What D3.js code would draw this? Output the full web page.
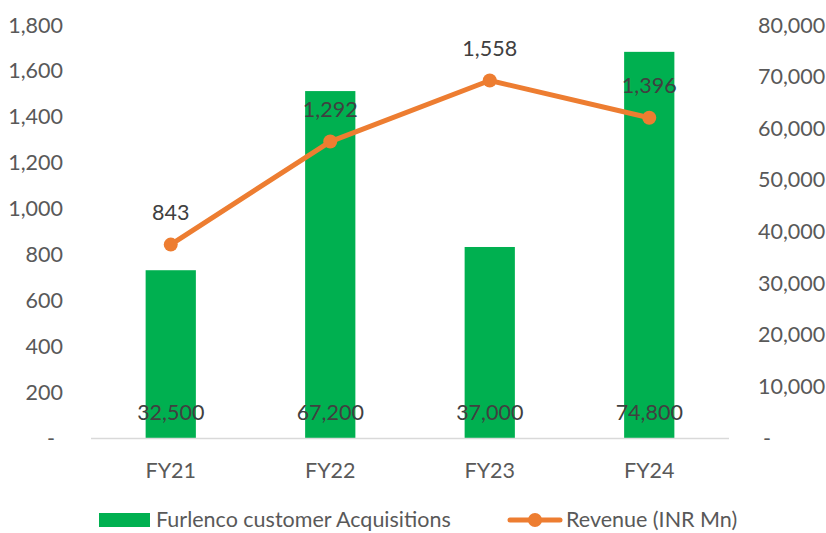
<!DOCTYPE html>
<html><head><meta charset="utf-8">
<script src="https://cdn.jsdelivr.net/npm/d3@7"></script>
<style>body{margin:0;background:#fff}svg{display:block}</style>
</head><body>
<script>
const categories = ["FY21","FY22","FY23","FY24"];
const acquisitions = [32500, 67200, 37000, 74800];
const revenue = [843, 1292, 1558, 1396];
const leftTicks = [0,200,400,600,800,1000,1200,1400,1600,1800];
const rightTicks = [0,10000,20000,30000,40000,50000,60000,70000,80000];
const seriesNames = ["Furlenco customer Acquisitions","Revenue (INR Mn)"];

const W=826,H=533;
const font="Lato, sans-serif";
const fs=21.5;
const svg=d3.select("body").append("svg").attr("width",W).attr("height",H);
const x=d3.scaleBand().domain(categories).range([91,729]).paddingInner(0.685).paddingOuter(0.3425);
const yL=d3.scaleLinear().domain([0,1800]).range([438,25]);
const yR=d3.scaleLinear().domain([0,80000]).range([438,25]);
const fmt=d3.format(",");
const cx=c=>x(c)+x.bandwidth()/2;

// left axis labels
svg.append("g").selectAll("text").data(leftTicks).join("text")
 .attr("x",d=>d===0?55:63).attr("y",d=>yL(d)).attr("dy","0.35em")
 .attr("text-anchor","end").attr("font-family",font).attr("font-size",fs).attr("fill","#595959")
 .text(d=>d===0?"-":fmt(d));
// right axis labels
svg.append("g").selectAll("text").data(rightTicks).join("text")
 .attr("x",d=>d===0?763:758).attr("y",d=>yR(d)).attr("dy","0.35em")
 .attr("text-anchor","start").attr("font-family",font).attr("font-size",fs).attr("fill","#595959")
 .text(d=>d===0?"-":fmt(d));

// bars
svg.append("g").selectAll("rect").data(categories).join("rect")
 .attr("x",d=>x(d)).attr("width",x.bandwidth())
 .attr("y",(d,i)=>yR(acquisitions[i])).attr("height",(d,i)=>yR(0)-yR(acquisitions[i]))
 .attr("fill","#00B050");

// baseline
svg.append("line").attr("x1",91).attr("x2",729).attr("y1",438.5).attr("y2",438.5)
 .attr("stroke","#D9D9D9").attr("stroke-width",1.5);

// x labels
svg.append("g").selectAll("text").data(categories).join("text")
 .attr("x",d=>cx(d)).attr("y",470).attr("dy","0.35em").attr("text-anchor","middle")
 .attr("font-family",font).attr("font-size",fs).attr("fill","#595959").text(d=>d);

// line
const line=d3.line().x((d,i)=>cx(categories[i])).y(d=>yL(d));
svg.append("path").datum(revenue).attr("d",line).attr("fill","none")
 .attr("stroke","#ED7D31").attr("stroke-width",5).attr("stroke-linejoin","round").attr("stroke-linecap","round");
svg.append("g").selectAll("circle").data(revenue).join("circle")
 .attr("cx",(d,i)=>cx(categories[i])).attr("cy",d=>yL(d)).attr("r",7).attr("fill","#ED7D31");

// bar labels
svg.append("g").selectAll("text").data(acquisitions).join("text")
 .attr("x",(d,i)=>cx(categories[i])).attr("y",412).attr("dy","0.35em").attr("text-anchor","middle")
 .attr("font-family",font).attr("font-size",fs).attr("fill","#404040").text(d=>fmt(d));
// line labels
svg.append("g").selectAll("text").data(revenue).join("text")
 .attr("x",(d,i)=>cx(categories[i])).attr("y",d=>yL(d)-32).attr("dy","0.35em").attr("text-anchor","middle")
 .attr("font-family",font).attr("font-size",fs).attr("fill","#404040").text(d=>fmt(d));

// legend
const ly=519;
const lg=svg.append("g");
lg.append("rect").attr("x",99).attr("y",ly-6).attr("width",51).attr("height",14).attr("fill","#00B050");
lg.append("text").attr("x",156).attr("y",ly).attr("dy","0.35em").attr("font-family",font).attr("font-size",fs).attr("fill","#595959").text(seriesNames[0]);
lg.append("line").attr("x1",510).attr("x2",560).attr("y1",ly+1).attr("y2",ly+1).attr("stroke","#ED7D31").attr("stroke-width",5).attr("stroke-linecap","round");
lg.append("circle").attr("cx",535).attr("cy",ly+1).attr("r",7).attr("fill","#ED7D31");
lg.append("text").attr("x",566).attr("y",ly).attr("dy","0.35em").attr("font-family",font).attr("font-size",fs).attr("fill","#595959").text(seriesNames[1]);
</script>
</body></html>
